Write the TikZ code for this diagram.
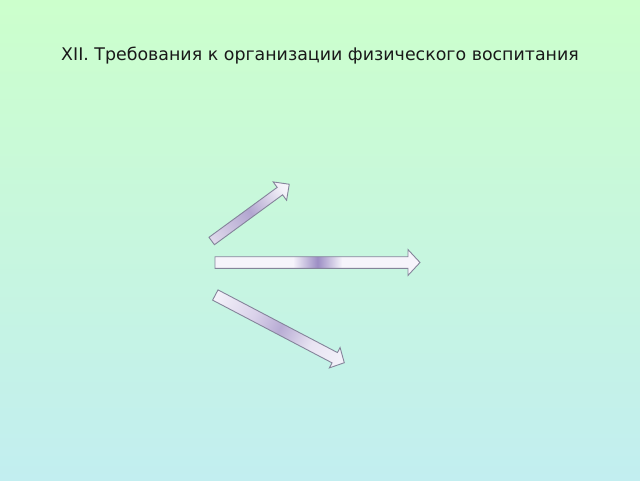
\documentclass[tikz,border=0pt]{standalone}
\usepackage{fontspec}
\setmainfont{DejaVu Sans}
\definecolor{bgtop}{HTML}{CCFFCC}
\definecolor{bgbot}{HTML}{C2EEF0}
\definecolor{aedge}{HTML}{84849A}
\definecolor{awhite}{HTML}{F8F7FC}
\definecolor{aA1}{HTML}{E0DAEC}
\definecolor{aA2}{HTML}{B2A6D0}
\definecolor{aA3}{HTML}{F2F0F8}
\definecolor{aB1}{HTML}{F6F4FB}
\definecolor{aB2}{HTML}{9C8EC4}
\definecolor{aC1}{HTML}{F4F2FA}
\definecolor{aC2}{HTML}{DAD2EA}
\definecolor{aC3}{HTML}{B8ACD4}
\definecolor{aC4}{HTML}{E8E4F2}
\pgfdeclarehorizontalshading{shA}{100bp}{color(0bp)=(aA1); color(25bp)=(aA1); color(50bp)=(aA2); color(70bp)=(aA3); color(75bp)=(awhite); color(100bp)=(awhite)}
\pgfdeclarehorizontalshading{shB}{100bp}{color(0bp)=(aB1); color(25bp)=(aB1); color(44bp)=(aB1); color(50bp)=(aB2); color(56bp)=(aB1); color(75bp)=(aB1); color(100bp)=(aB1)}
\pgfdeclarehorizontalshading{shC}{100bp}{color(0bp)=(aC1); color(25bp)=(aC1); color(40bp)=(aC2); color(50bp)=(aC3); color(62bp)=(aC4); color(75bp)=(aC1); color(100bp)=(aC1)}
\tikzset{
  arrowbox/.style={draw=aedge, line width=0.9pt, line join=miter},
  titletext/.style={font=\fontsize{17.4}{20}\selectfont, text=black!90, anchor=base, inner sep=0pt}
}
\begin{document}
\begin{tikzpicture}[x=1pt,y=-1pt]
\useasboundingbox (0,0) rectangle (640,480);
\shade[top color=bgtop, bottom color=bgbot] (0,0) rectangle (640,480);
\node[titletext] (title) at (320,60) {XII. Требования к организации физического воспитания};
% arrow 1 (up-right)
\begin{scope}[transform canvas={shift={(211.7,241)},rotate=36.2}]
\path[arrowbox, shading=shA] (0,-4.6) -- (84.5,-4.6) -- (84.5,-11.4) -- (96.1,0) -- (84.5,11.4) -- (84.5,4.6) -- (0,4.6) -- cycle;
\end{scope}
% arrow 2 (right)
\begin{scope}[transform canvas={shift={(215,262.5)}}]
\path[arrowbox, shading=shB] (0,-5.8) -- (193,-5.8) -- (193,-12.9) -- (205,0) -- (193,12.9) -- (193,5.8) -- (0,5.8) -- cycle;
\end{scope}
% arrow 3 (down-right)
\begin{scope}[transform canvas={shift={(215.3,295)},rotate=-27.7}]
\path[arrowbox, shading=shC] (0,-5.8) -- (134.9,-5.8) -- (134.9,-11.5) -- (145.7,0) -- (134.9,11.5) -- (134.9,5.8) -- (0,5.8) -- cycle;
\end{scope}
\end{tikzpicture}
\end{document}
